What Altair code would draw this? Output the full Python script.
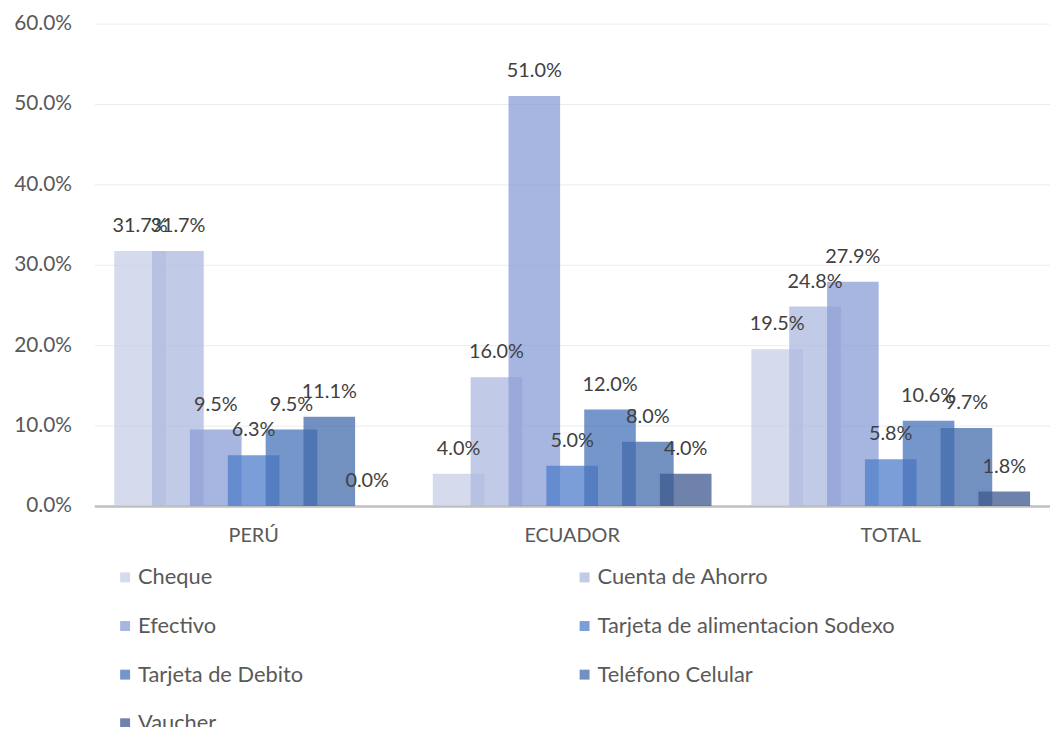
import altair as alt
import pandas as pd

groups = ["PERÚ", "ECUADOR", "TOTAL"]
series = ["Cheque", "Cuenta de Ahorro", "Efectivo", "Tarjeta de alimentacion Sodexo",
          "Tarjeta de Debito", "Teléfono Celular", "Vaucher"]
peru = [31.7, 31.7, 9.5, 6.3, 9.5, 11.1, 0.0]
ecuador = [4.0, 16.0, 51.0, 5.0, 12.0, 8.0, 4.0]
total = [19.5, 24.8, 27.9, 5.8, 10.6, 9.7, 1.8]
colors = ["#c7cee6", "#acb8de", "#8a9ed6", "#507ecb", "#4773ba", "#436bab", "#3e588f"]

rows = []
for g, vals in zip(groups, [peru, ecuador, total]):
    for s, v in zip(series, vals):
        rows.append({"Pais": g, "Tipo": s, "Valor": v / 100.0})
df = pd.DataFrame(rows)

FONT = "Lato"

x = alt.X("Pais:N", sort=groups, title=None,
          scale=alt.Scale(paddingInner=0, paddingOuter=0),
          axis=alt.Axis(labelAngle=0, ticks=False, labelPadding=20, labelFontSize=20,
                        labelColor="#595959", labelFont=FONT, domainColor="#bfbfbf",
                        domainWidth=2.5, grid=False))
xoff = alt.XOffset("Tipo:N", sort=series,
                   scale=alt.Scale(paddingInner=0, paddingOuter=0.708))
y = alt.Y("Valor:Q", title=None,
          scale=alt.Scale(domain=[0, 0.6], nice=False),
          axis=alt.Axis(format=".1%", values=[0, 0.1, 0.2, 0.3, 0.4, 0.5, 0.6],
                        domain=False, ticks=False, labelPadding=23, labelFontSize=21,
                        labelColor="#595959", labelFont=FONT, gridColor="#ececec",
                        gridWidth=1))

bars = alt.Chart(df).mark_bar(width=52, opacity=0.75).encode(
    x=x, xOffset=xoff, y=y,
    color=alt.Color("Tipo:N", sort=series,
                    scale=alt.Scale(domain=series, range=colors),
                    legend=alt.Legend(title=None, orient="none", legendX=20, legendY=547,
                                      direction="horizontal",
                                      columns=2, columnPadding=272, rowPadding=27,
                                      symbolType="square", symbolSize=100,
                                      symbolOpacity=0.75, symbolStrokeWidth=0,
                                      labelFontSize=22, labelColor="#595959",
                                      labelFont=FONT, labelOffset=2, padding=0,
                                      labelLimit=400)),
)

labels = alt.Chart(df).mark_text(dy=-25, fontSize=20, color="#404040", font=FONT,
                                 baseline="middle").encode(
    x=x, xOffset=xoff, y=y,
    text=alt.Text("Valor:Q", format=".1%"),
)

chart = alt.layer(bars, labels).properties(
    width=963, height=486,
    autosize=alt.AutoSizeParams(type="none"),
    padding={"left": 87, "top": 13, "right": 0, "bottom": 220},
).configure_view(stroke=None)

chart.save("out.html", embed_options={"renderer": "svg", "actions": False})
